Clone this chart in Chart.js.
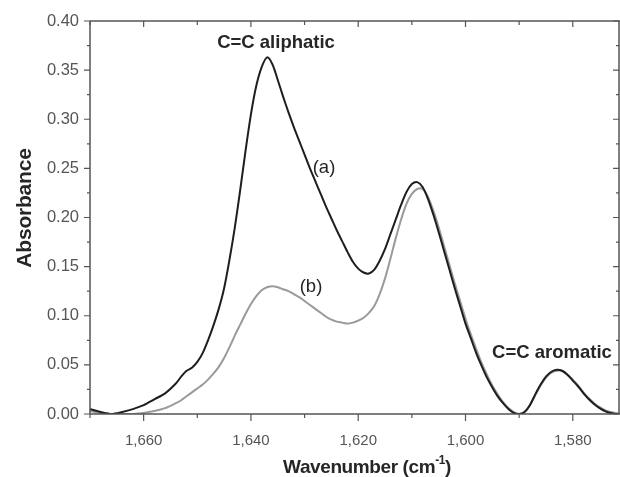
<!DOCTYPE html>
<html>
<head>
<meta charset="utf-8">
<script src="https://cdn.jsdelivr.net/npm/chart.js@4"></script>
<style>
  html, body { margin: 0; padding: 0; background: #fff; }
  #wrap { width: 620px; height: 477px; position: relative; }
</style>
</head>
<body>
<div id="wrap"><canvas id="ftirChart"></canvas></div>
<script>
// wavenumber (cm-1) sampled along the x axis
var wavenumbers = [1670, 1668, 1666, 1664, 1662, 1660, 1658, 1656, 1654, 1653, 1652, 1651, 1650,
  1649, 1648, 1647, 1646, 1645, 1644, 1643, 1642, 1641, 1640, 1639, 1638, 1637, 1636, 1635,
  1634, 1633, 1632, 1631, 1630, 1629, 1628, 1627, 1626, 1625, 1624, 1623, 1622, 1621, 1620,
  1619, 1618, 1617, 1616, 1615, 1614, 1613, 1612, 1611, 1610, 1609, 1608, 1607, 1606, 1605,
  1604, 1603, 1602, 1601, 1600, 1599, 1598, 1597, 1596, 1595, 1594, 1593, 1592, 1591, 1590,
  1589, 1588, 1587, 1586, 1585, 1584, 1583, 1582, 1581, 1580, 1579, 1578, 1577, 1576, 1575,
  1574, 1573, 1572, 1571];

// curve (a), black
var absorbanceA = [0.005, 0.002, 0.000, 0.002, 0.005, 0.009, 0.015, 0.021, 0.031, 0.038, 0.044, 0.047, 0.053,
  0.062, 0.075, 0.090, 0.107, 0.128, 0.157, 0.190, 0.228, 0.268, 0.305, 0.334, 0.353, 0.363, 0.356, 0.340,
  0.323, 0.307, 0.292, 0.278, 0.264, 0.250, 0.237, 0.224, 0.211, 0.199, 0.187, 0.176, 0.165, 0.155, 0.148,
  0.144, 0.143, 0.147, 0.156, 0.168, 0.183, 0.198, 0.213, 0.226, 0.234, 0.236, 0.231, 0.219, 0.203, 0.185,
  0.166, 0.147, 0.128, 0.110, 0.092, 0.077, 0.062, 0.049, 0.037, 0.027, 0.018, 0.011, 0.005, 0.001, 0.000,
  0.002, 0.009, 0.020, 0.030, 0.038, 0.043, 0.045, 0.044, 0.040, 0.034, 0.028, 0.021, 0.015, 0.010, 0.006,
  0.003, 0.001, 0.000, 0.000];

// curve (b), grey
var absorbanceB = [0.003, 0.001, 0.000, 0.000, 0.000, 0.001, 0.003, 0.006, 0.011, 0.014, 0.018, 0.022, 0.026,
  0.030, 0.035, 0.041, 0.048, 0.057, 0.068, 0.080, 0.091, 0.102, 0.112, 0.120, 0.126, 0.129, 0.130, 0.129,
  0.127, 0.125, 0.122, 0.119, 0.115, 0.111, 0.107, 0.103, 0.099, 0.096, 0.094, 0.093, 0.092, 0.093, 0.095,
  0.098, 0.103, 0.110, 0.122, 0.138, 0.158, 0.179, 0.198, 0.214, 0.224, 0.229, 0.229, 0.221, 0.207, 0.190,
  0.171, 0.152, 0.133, 0.115, 0.097, 0.081, 0.066, 0.052, 0.040, 0.029, 0.020, 0.012, 0.006, 0.002, 0.000,
  0.002, 0.009, 0.019, 0.029, 0.037, 0.042, 0.044, 0.044, 0.040, 0.035, 0.029, 0.022, 0.016, 0.011, 0.007,
  0.004, 0.002, 0.001, 0.000];

var xTicks = [1660, 1640, 1620, 1600, 1580];
var yTicks = [0, 0.05, 0.10, 0.15, 0.20, 0.25, 0.30, 0.35, 0.40];

var notes = [
  { text: 'C=C aliphatic', x: 276, y: 43, bold: true },
  { text: '(a)', x: 324, y: 168, bold: false },
  { text: '(b)', x: 311, y: 287, bold: false },
  { text: 'C=C aromatic', x: 552, y: 353, bold: true }
];

function toPoints(xs, ys) {
  return xs.map(function (v, i) { return { x: v, y: ys[i] }; });
}

var axisColor = '#555';
var fontFamily = '"Liberation Sans", Arial, sans-serif';

// frame, tick marks, axis titles and text labels
var framePlugin = {
  id: 'frame',
  afterDraw: function (chart) {
    var ctx = chart.ctx;
    var a = chart.chartArea;
    var x = chart.scales.x;
    var y = chart.scales.y;
    ctx.save();
    ctx.strokeStyle = axisColor;
    ctx.lineWidth = 1.5;
    ctx.beginPath();
    ctx.moveTo(a.left, a.top); ctx.lineTo(a.right, a.top);
    ctx.moveTo(a.left, a.bottom); ctx.lineTo(a.right, a.bottom);
    ctx.moveTo(a.left, a.top); ctx.lineTo(a.left, a.bottom);
    ctx.moveTo(a.right - 1, a.top); ctx.lineTo(a.right - 1, a.bottom);
    ctx.stroke();

    ctx.lineWidth = 1.2;
    ctx.beginPath();
    for (var v = 1580; v <= 1670; v += 10) {
      var px = x.getPixelForValue(v);
      var major = v % 20 === 0;
      ctx.moveTo(px, a.bottom); ctx.lineTo(px, a.bottom + (major ? 7 : 4));
      ctx.moveTo(px, a.top); ctx.lineTo(px, a.top + (major ? 6 : 4));
    }
    for (var i = 0; i <= 16; i++) {
      var py = y.getPixelForValue(i * 0.025);
      var maj = i % 2 === 0;
      ctx.moveTo(a.left, py); ctx.lineTo(a.left - (maj ? 6 : 3), py);
      ctx.moveTo(a.right - 1, py); ctx.lineTo(a.right - 1 - (maj ? 6 : 3), py);
    }
    ctx.stroke();

    ctx.fillStyle = '#262626';
    ctx.textAlign = 'center';
    ctx.textBaseline = 'middle';

    // y title
    ctx.save();
    ctx.translate(25, 208);
    ctx.rotate(-Math.PI / 2);
    ctx.letterSpacing = '-0.2px';
    ctx.font = 'bold 21px ' + fontFamily;
    ctx.fillText('Absorbance', 0, 0);
    ctx.restore();

    // x title with superscript
    ctx.letterSpacing = '-0.4px';
    ctx.font = 'bold 19px ' + fontFamily;
    var main = 'Wavenumber (cm';
    var sup = '-1';
    var end = ')';
    var wMain = ctx.measureText(main).width;
    var wEnd = ctx.measureText(end).width;
    ctx.font = 'bold 12px ' + fontFamily;
    var wSup = ctx.measureText(sup).width;
    var startX = 367 - (wMain + wSup + wEnd) / 2;
    ctx.textAlign = 'left';
    ctx.font = 'bold 19px ' + fontFamily;
    ctx.fillText(main, startX, 468);
    ctx.fillText(end, startX + wMain + wSup, 468);
    ctx.font = 'bold 12px ' + fontFamily;
    ctx.fillText(sup, startX + wMain, 461);

    ctx.textAlign = 'center';
    ctx.letterSpacing = '0px';
    notes.forEach(function (n) {
      ctx.font = (n.bold ? 'bold ' : '') + '18.5px ' + fontFamily;
      ctx.fillText(n.text, n.x, n.y);
    });
    ctx.restore();
  }
};

new Chart(document.getElementById('ftirChart'), {
  type: 'line',
  data: {
    datasets: [
      {
        label: '(a)',
        data: toPoints(wavenumbers, absorbanceA),
        borderColor: '#1e1e1e',
        borderWidth: 2,
        pointRadius: 0,
        tension: 0.3,
        fill: false
      },
      {
        label: '(b)',
        data: toPoints(wavenumbers, absorbanceB),
        borderColor: '#9a9a9a',
        borderWidth: 2,
        pointRadius: 0,
        tension: 0.3,
        fill: false
      }
    ]
  },
  options: {
    responsive: true,
    maintainAspectRatio: false,
    animation: false,
    layout: { padding: { top: 21, right: 0, left: 0, bottom: 0 } },
    plugins: {
      legend: { display: false },
      tooltip: { enabled: false }
    },
    scales: {
      x: {
        type: 'linear',
        reverse: true,
        min: 1571.2,
        max: 1670,
        grid: { display: false, drawTicks: false },
        border: { display: false },
        afterFit: function (scale) { scale.height = 63; },
        ticks: {
          stepSize: 10,
          includeBounds: false,
          autoSkip: false,
          maxRotation: 0,
          padding: 18,
          color: axisColor,
          font: { family: fontFamily, size: 15 },
          callback: function (value) {
            return xTicks.indexOf(value) >= 0 ? value.toLocaleString('en-US') : '';
          }
        }
      },
      y: {
        min: 0,
        max: 0.40,
        grid: { display: false, drawTicks: false },
        border: { display: false },
        afterFit: function (scale) { scale.width = 90; },
        ticks: {
          stepSize: 0.05,
          padding: 11,
          color: axisColor,
          font: { family: fontFamily, size: 16.5 },
          callback: function (value) {
            return value.toFixed(2);
          }
        }
      }
    }
  },
  plugins: [framePlugin]
});
</script>
</body>
</html>
